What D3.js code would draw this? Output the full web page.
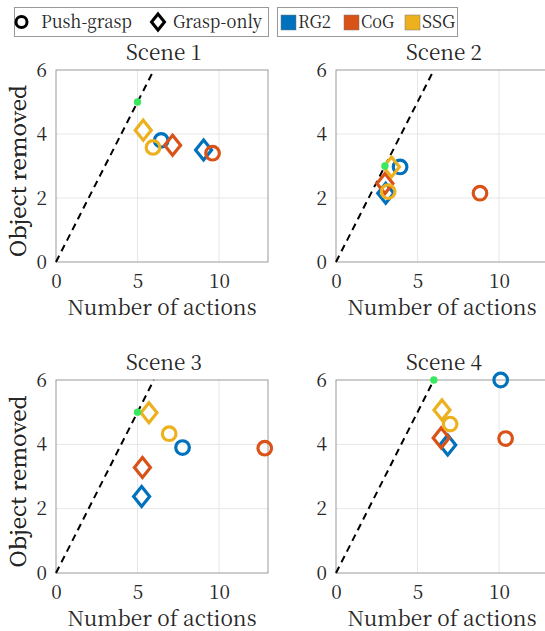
<!DOCTYPE html>
<html><head><meta charset="utf-8">
<script src="https://cdn.jsdelivr.net/npm/d3@7"></script>
<style>
html,body{margin:0;padding:0;background:#fff;overflow:hidden;}
</style></head>
<body><svg id="chart" width="545" height="631"></svg>
<script>
const scenes = ["Scene 1", "Scene 2", "Scene 3", "Scene 4"];
const methods = ["RG2", "CoG", "SSG"];
const methodColors = ["#0072BD", "#D95319", "#EDB120"];
const strategies = ["Push-grasp", "Grasp-only"];
// per scene, per method [RG2, CoG, SSG]
const pushX  = [[6.45, 9.6, 5.95], [3.93, 8.83, 3.2], [7.76, 12.8, 6.94], [10.1, 10.4, 7.0]];
const pushY  = [[3.8, 3.4, 3.58], [2.97, 2.15, 2.2], [3.9, 3.88, 4.33], [6.0, 4.18, 4.63]];
const graspX = [[9.05, 7.15, 5.35], [3.05, 3.0, 3.4], [5.25, 5.3, 5.7], [6.85, 6.45, 6.5]];
const graspY = [[3.5, 3.65, 4.12], [2.15, 2.45, 2.97], [2.38, 3.28, 4.98], [3.98, 4.2, 5.07]];
const optimalX = [5, 3, 5, 6];
const optimalY = [5, 3, 5, 6];
const xDomain = [0, 13];
const yDomain = [0, 6];
const xTicks = [0, 5, 10];
const yTicks = [0, 2, 4, 6];
const xLabel = "Number of actions";
const yLabel = "Object removed";

const FONT = "Noto Serif CJK SC";
const TXT = "#262626";
const svg = d3.select("#chart");
const panels = [
  {x0: 56, y0: 70, w: 212, h: 192},
  {x0: 336, y0: 70, w: 212, h: 192},
  {x0: 56, y0: 380, w: 212, h: 193},
  {x0: 336, y0: 380, w: 212, h: 193}
];
const boxColor = "#9a9a9a", gridColor = "#e6e6e6";

function diamondPath(w, h) {
  return `M0,${-h/2}L${w/2},0L0,${h/2}L${-w/2},0Z`;
}
function txt(sel) { return sel.attr("font-family", FONT).attr("fill", TXT); }

panels.forEach((p, i) => {
  const g = svg.append("g").attr("transform", `translate(${p.x0},${p.y0})`);
  const x = d3.scaleLinear().domain(xDomain).range([0, p.w]);
  const y = d3.scaleLinear().domain(yDomain).range([p.h, 0]);

  // grid
  g.append("g").selectAll("line").data(xTicks.slice(1)).join("line")
    .attr("x1", d => x(d)).attr("x2", d => x(d)).attr("y1", 0).attr("y2", p.h)
    .attr("stroke", gridColor).attr("stroke-width", 1);
  g.append("g").selectAll("line").data(yTicks.slice(1, -1)).join("line")
    .attr("y1", d => y(d)).attr("y2", d => y(d)).attr("x1", 0).attr("x2", p.w)
    .attr("stroke", gridColor).attr("stroke-width", 1);

  // axes
  const xa = g.append("g").attr("transform", `translate(0,${p.h})`)
    .call(d3.axisBottom(x).tickValues(xTicks).tickSize(0).tickPadding(13).tickFormat(d3.format("d")));
  xa.attr("font-family", FONT).attr("font-size", 19);
  xa.select(".domain").remove();
  txt(xa.selectAll("text"));
  const ya = g.append("g")
    .call(d3.axisLeft(y).tickValues(yTicks).tickSize(0).tickPadding(9).tickFormat(d3.format("d")));
  ya.attr("font-family", FONT).attr("font-size", 19);
  ya.select(".domain").remove();
  txt(ya.selectAll("text"));

  // box
  g.append("rect").attr("x", 0).attr("y", 0).attr("width", p.w).attr("height", p.h)
    .attr("fill", "none").attr("stroke", boxColor).attr("stroke-width", 1);

  // title
  txt(g.append("text")).attr("x", p.w / 2 + 2).attr("y", -10).attr("text-anchor", "middle")
    .attr("font-size", 21).attr("textLength", 76).attr("lengthAdjust", "spacingAndGlyphs")
    .text(scenes[i]);
  // x label
  txt(g.append("text")).attr("x", p.w / 2).attr("y", p.h + 53).attr("text-anchor", "middle")
    .attr("font-size", 21).attr("textLength", 189).attr("lengthAdjust", "spacingAndGlyphs")
    .text(xLabel);
  // y label
  txt(g.append("text")).attr("transform", `translate(${26 - p.x0},${p.h / 2 + 5}) rotate(-90)`)
    .attr("text-anchor", "middle").attr("font-size", 21)
    .attr("textLength", 172).attr("lengthAdjust", "spacingAndGlyphs")
    .text(yLabel);

  // dashed y = x reference line
  const lineEnd = 6;
  g.append("line").attr("x1", x(0)).attr("y1", y(0)).attr("x2", x(lineEnd)).attr("y2", y(lineEnd))
    .attr("stroke", "#000").attr("stroke-width", 2).attr("stroke-dasharray", "7,5");

  // markers
  methods.forEach((m, k) => {
    g.append("circle").attr("cx", x(pushX[i][k])).attr("cy", y(pushY[i][k])).attr("r", 6.8)
      .attr("fill", "none").attr("stroke", methodColors[k]).attr("stroke-width", 3.2);
    g.append("path").attr("d", diamondPath(16, 20))
      .attr("transform", `translate(${x(graspX[i][k])},${y(graspY[i][k])})`)
      .attr("fill", "none").attr("stroke", methodColors[k]).attr("stroke-width", 3.2)
      .attr("stroke-linejoin", "miter");
  });

  // optimal point
  g.append("circle").attr("cx", x(optimalX[i])).attr("cy", y(optimalY[i])).attr("r", 3.7)
    .attr("fill", "#38e85e");
});

// legends
const leg1 = svg.append("g");
leg1.append("rect").attr("x", 14.5).attr("y", 7.5).attr("width", 254).attr("height", 29)
  .attr("fill", "#fff").attr("stroke", "#999").attr("stroke-width", 1);
leg1.append("circle").attr("cx", 21.5).attr("cy", 22).attr("r", 5.5)
  .attr("fill", "none").attr("stroke", "#000").attr("stroke-width", 3);
txt(leg1.append("text")).attr("x", 41).attr("y", 28).attr("font-size", 18)
  .attr("textLength", 91).attr("lengthAdjust", "spacingAndGlyphs").text(strategies[0]);
leg1.append("path").attr("d", diamondPath(13, 16)).attr("transform", "translate(158,22)")
  .attr("fill", "none").attr("stroke", "#000").attr("stroke-width", 3);
txt(leg1.append("text")).attr("x", 173).attr("y", 28).attr("font-size", 18)
  .attr("textLength", 89).attr("lengthAdjust", "spacingAndGlyphs").text(strategies[1]);

const leg2 = svg.append("g");
leg2.append("rect").attr("x", 277.5).attr("y", 7.5).attr("width", 180).attr("height", 29)
  .attr("fill", "#fff").attr("stroke", "#999").attr("stroke-width", 1);
const legX = [281, 344, 405];
methods.forEach((m, k) => {
  leg2.append("rect").attr("x", legX[k]).attr("y", 15).attr("width", 15).attr("height", 15)
    .attr("fill", methodColors[k]).attr("stroke", "#777").attr("stroke-width", 0.5);
  txt(leg2.append("text")).attr("x", legX[k] + 17).attr("y", 28).attr("font-size", 18)
    .attr("textLength", 33).attr("lengthAdjust", "spacingAndGlyphs").text(m);
});
</script>
</body></html>
